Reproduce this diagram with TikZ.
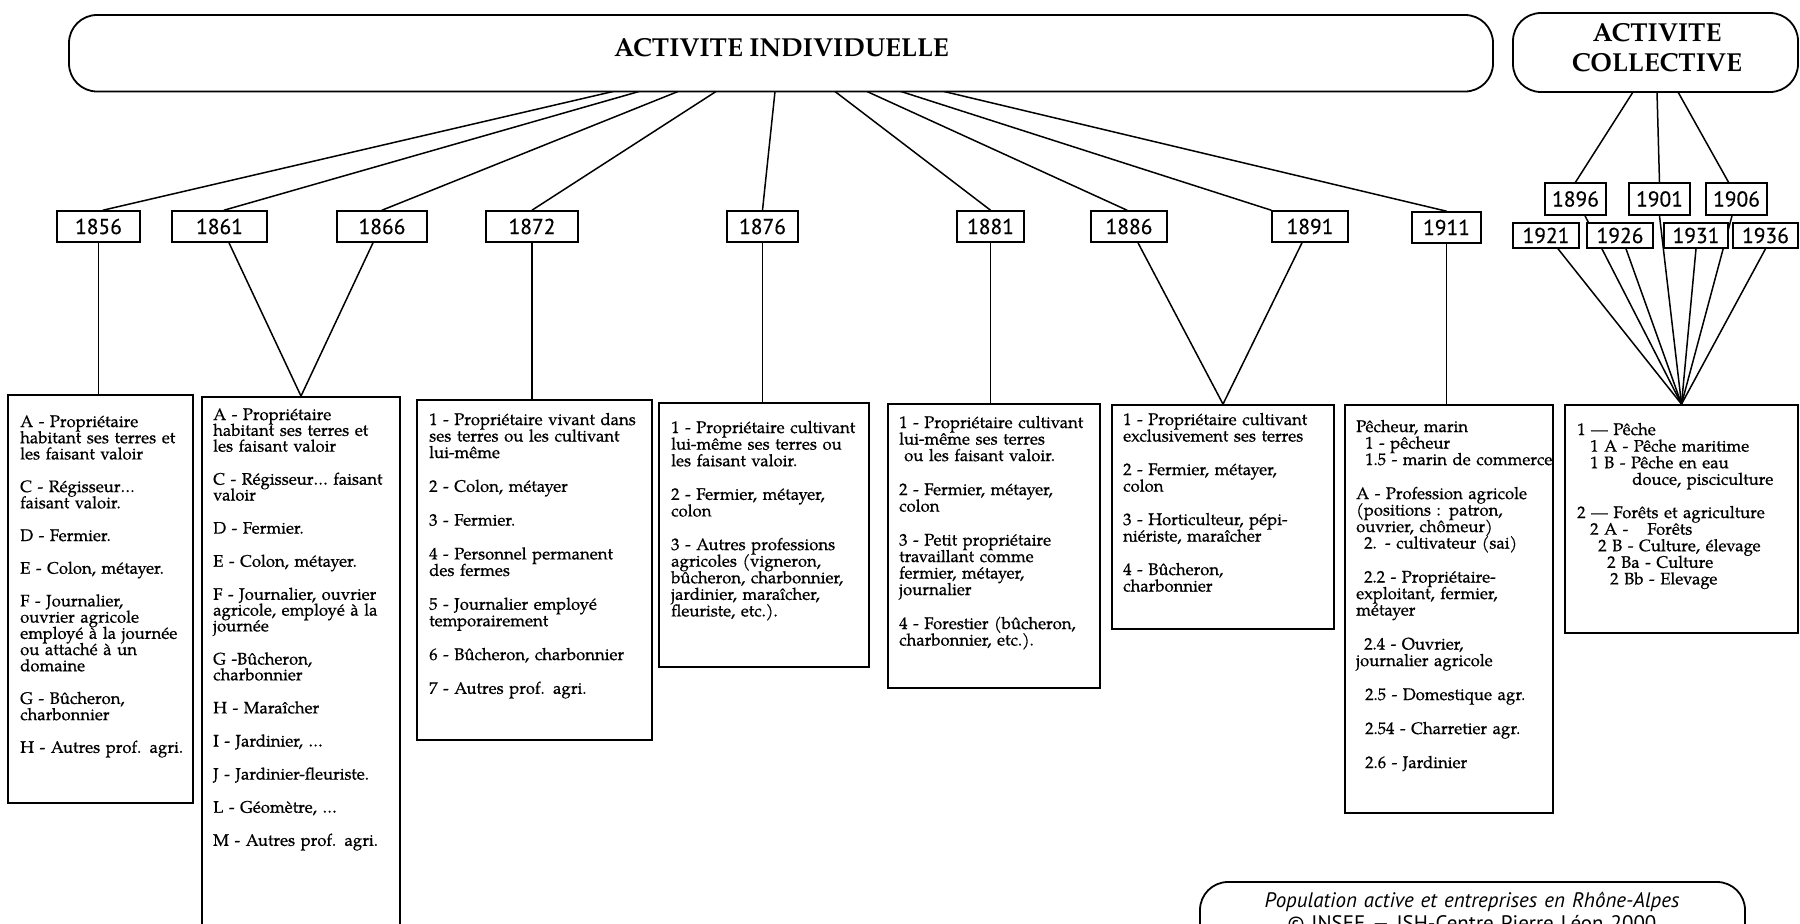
\documentclass[tikz,border=0pt]{standalone}
\usepackage{fontspec}
\setmainfont{texgyrepagella}[Extension=.otf,UprightFont=*-regular,BoldFont=*-bold,ItalicFont=*-italic,BoldItalicFont=*-bolditalic]
\newfontface\bodyfont{texgyrepagella-regular.otf}[FakeBold=0.6]
\newfontfamily\yearfont{PT Sans}[FakeBold=0.4]
\newfontfamily\credfont{PT Sans}
\usetikzlibrary{backgrounds}
\lineskiplimit=-\maxdimen
\normallineskiplimit=-\maxdimen
\def\gapsk{17pt}
\newcommand\np{\\[\gapsk]}
\begin{document}
\begin{tikzpicture}[x=1pt,y=-1pt,
 ybox/.style={draw,line width=1.6pt,fill=white,inner sep=0pt,minimum height=31pt,font={\yearfont\fontsize{21.5}{24}\selectfont}},
 cbox/.style={draw,line width=1.8pt,fill=white,inner sep=0pt},
 hdr/.style={draw,line width=1.8pt,fill=white,rounded corners=28pt,inner sep=0pt},
 htext/.style={inner sep=0pt,anchor=base,font={\bfseries\fontsize{26}{30}\selectfont}},
 ctext/.style={anchor=base west,inner sep=0pt,text width=235pt,align=left,font={\bodyfont\fontsize{16.7}{#1}\selectfont}},
 conn/.style={line width=1.5pt,line cap=round},
]
\path[use as bounding box] (0,0) rectangle (1800,924);
\clip (0,0) rectangle (1800,924);

% headers
\node[hdr,minimum width=1424pt,minimum height=76.5pt] (hi) at (781,53.25) {};
\node[htext] (hit) at (781.5,56) {ACTIVITE INDIVIDUELLE};
\node[hdr,minimum width=285pt,minimum height=79pt] (hc) at (1655.5,52.5) {};
\node[htext,text width=280pt,align=center] (hct) at (1657,41.7) {ACTIVITE\\COLLECTIVE};

% attachment points on headers
\coordinate (a1856) at (613,91.5);
\coordinate (a1861) at (639,91.5);
\coordinate (a1866) at (678,91.5);
\coordinate (a1872) at (716,91.5);
\coordinate (a1876) at (775,91.5);
\coordinate (a1881) at (835,91.5);
\coordinate (a1886) at (867,91.5);
\coordinate (a1891) at (901,91.5);
\coordinate (a1911) at (944,91.5);
\coordinate (b1896) at (1633,92);
\coordinate (b1901) at (1657,92);
\coordinate (b1906) at (1678,92);

% year boxes, individual
\node[ybox,minimum width=83pt] (y1856) at (98.5,226.5) {1856};
\node[ybox,minimum width=95pt] (y1861) at (219.5,226.5) {1861};
\node[ybox,minimum width=90pt] (y1866) at (382,226.5) {1866};
\node[ybox,minimum width=92pt] (y1872) at (532,226.5) {1872};
\node[ybox,minimum width=71pt] (y1876) at (762.5,226.5) {1876};
\node[ybox,minimum width=67pt] (y1881) at (990.5,226.5) {1881};
\node[ybox,minimum width=76pt] (y1886) at (1129,226.5) {1886};
\node[ybox,minimum width=76pt] (y1891) at (1310,226.5) {1891};
\node[ybox,minimum width=69pt] (y1911) at (1446.5,227.5) {1911};

% year boxes, collective
\node[ybox,minimum width=61pt,minimum height=32pt] (y1896) at (1575.5,199) {1896};
\node[ybox,minimum width=61pt,minimum height=32pt] (y1901) at (1659.5,199) {1901};
\node[ybox,minimum width=61pt,minimum height=32pt] (y1906) at (1736.5,199) {1906};
\node[ybox,minimum width=66pt,minimum height=25pt] (y1921) at (1546,235.5) {1921};
\node[ybox,minimum width=66pt,minimum height=25pt] (y1926) at (1620,235.5) {1926};
\node[ybox,minimum width=64pt,minimum height=25pt] (y1931) at (1696,235.5) {1931};
\node[ybox,minimum width=65pt,minimum height=25pt] (y1936) at (1765.5,235.5) {1936};

% content boxes
\node[cbox,minimum width=185pt,minimum height=408pt] (c1856) at (100.5,599) {};
\node[cbox,minimum width=198pt,minimum height=563pt] (c1861) at (301,678.5) {};
\node[cbox,minimum width=235pt,minimum height=340pt] (c1872) at (534.5,570) {};
\node[cbox,minimum width=210pt,minimum height=264pt] (c1876) at (764,535) {};
\node[cbox,minimum width=212pt,minimum height=284pt] (c1881) at (994,546) {};
\node[cbox,minimum width=222pt,minimum height=224pt] (c1886) at (1223,517) {};
\node[cbox,minimum width=208pt,minimum height=408pt] (c1911) at (1449,609) {};
\node[cbox,minimum width=233pt,minimum height=228pt] (cC) at (1681.5,519) {};

% texts
\node[ctext=16.2pt] (t1856) at (20,427) {\def\gapsk{16.5pt}%
A - Propriétaire\\habitant ses terres et\\les faisant valoir\np
C - Régisseur…\\faisant valoir.\np
D - Fermier.\np
E - Colon, métayer.\np
F - Journalier,\\ouvrier agricole\\employé à la journée\\ou attaché à un\\domaine\np
G - Bûcheron,\\charbonnier\np
H - Autres prof. agri.};

\node[ctext=15.8pt] (t1861) at (213,420) {\def\gapsk{17.3pt}%
A - Propriétaire\\habitant ses terres et\\les faisant valoir\np
C - Régisseur… faisant\\valoir\np
D - Fermier.\np
E - Colon, métayer.\np
F - Journalier, ouvrier\\agricole, employé à la\\journée\np
G -Bûcheron,\\charbonnier\np
H - Maraîcher\np
I - Jardinier, …\np
J - Jardinier-fleuriste.\np
L - Géomètre, …\np
M - Autres prof. agri.};

\node[ctext=16.5pt] (t1872) at (429,425) {\def\gapsk{17.3pt}%
1 - Propriétaire vivant dans\\ses terres ou les cultivant\\lui-même\np
2 - Colon, métayer\np
3 - Fermier.\np
4 - Personnel permanent\\des fermes\np
5 - Journalier employé\\temporairement\np
6 - Bûcheron, charbonnier\np
7 - Autres prof. agri.};

\node[ctext=16.6pt] (t1876) at (671,433) {\def\gapsk{17pt}%
1 - Propriétaire cultivant\\lui-même ses terres ou\\les faisant valoir.\np
2 - Fermier, métayer,\\colon\np
3 - Autres professions\\agricoles (vigneron,\\bûcheron, charbonnier,\\jardinier, maraîcher,\\fleuriste, etc.).};

\node[ctext=16.5pt] (t1881) at (899,428) {\def\gapsk{17.5pt}%
1 - Propriétaire cultivant\\lui-même ses terres\\\hspace*{5pt}ou les faisant valoir.\np
2 - Fermier, métayer,\\colon\np
3 - Petit propriétaire\\travaillant comme\\fermier, métayer,\\journalier\np
4 - Forestier (bûcheron,\\charbonnier, etc.).};

\node[ctext=16.5pt] (t1886) at (1123,425) {\def\gapsk{17pt}%
1 - Propriétaire cultivant\\exclusivement ses terres\np
2 - Fermier, métayer,\\colon\np
3 - Horticulteur, pépi-\\niériste, maraîcher\np
4 - Bûcheron,\\charbonnier};

\node[ctext=16.5pt] (t1911) at (1356,432) {\def\gapsk{17.5pt}%
Pêcheur, marin\\\hspace*{9pt}1 - pêcheur\\\hspace*{9pt}1.5 - marin de commerce\np
A - Profession agricole\\(positions : patron,\\ouvrier, chômeur)\\\hspace*{8pt}2. - cultivateur (sai)\np
\hspace*{8pt}2.2 - Propriétaire-\\exploitant, fermier,\\métayer\np
\hspace*{8pt}2.4 - Ouvrier,\\journalier agricole\np
\hspace*{9pt}2.5 - Domestique agr.\np
\hspace*{9pt}2.54 - Charretier agr.\np
\hspace*{9pt}2.6 - Jardinier};

\node[ctext=16.6pt] (tC) at (1577,435) {\def\gapsk{16.6pt}%
1 — Pêche\\\hspace*{13pt}1 A - Pêche maritime\\\hspace*{13pt}1 B - Pêche en eau\\\hspace*{55pt}douce, pisciculture\np
2 — Forêts et agriculture\\\hspace*{13pt}2 A -\hspace{19pt}Forêts\\\hspace*{21pt}2 B - Culture, élevage\\\hspace*{30pt}2 Ba - Culture\\\hspace*{33pt}2 Bb - Elevage};

% credit
\node[hdr,minimum width=545pt,minimum height=100pt] (cred) at (1472.5,932) {};
\node[inner sep=0pt,anchor=base,text width=540pt,align=center,font={\credfont\fontsize{21}{23}\selectfont}] (credt) at (1472,907) {\itshape Population active et entreprises en Rhône-Alpes\\\upshape © INSEE — ISH-Centre Pierre Léon 2000};

% connectors
\begin{pgfonlayer}{background}
\draw[conn] (a1856) -- ([xshift=4.5pt]y1856.north);
\draw[conn] (a1861) -- ([xshift=4.5pt]y1861.north);
\draw[conn] (a1866) -- (y1866.north);
\draw[conn] (a1872) -- (y1872.north);
\draw[conn] (a1876) -- (y1876.north);
\draw[conn] (a1881) -- (y1881.north);
\draw[conn] (a1886) -- ([xshift=-2pt]y1886.north);
\draw[conn] (a1891) -- (y1891.north west);
\draw[conn] (a1911) -- (y1911.north);
\draw[conn] (y1856.south) -- (y1856.south |- c1856.north);
\draw[conn] ([xshift=9.5pt]y1861.south) -- (c1861.north);
\draw[conn] ([xshift=-9pt]y1866.south) -- (c1861.north);
\draw[conn] (y1872.south) -- (y1872.south |- c1872.north);
\draw[conn] (y1876.south) -- (y1876.south |- c1876.north);
\draw[conn] (y1881.south) -- (y1881.south |- c1881.north);
\draw[conn] ([xshift=9pt]y1886.south) -- (c1886.north);
\draw[conn] ([xshift=-8pt]y1891.south) -- (c1886.north);
\draw[conn] (y1911.south) -- (y1911.south |- c1911.north);
\draw[conn] (b1896) -- (y1896.north);
\draw[conn] (b1901) -- (y1901.north);
\draw[conn] (b1906) -- ([xshift=-8pt]y1906.north);
\draw[conn] ([xshift=12pt]y1921.south) -- (cC.north);
\draw[conn] ([xshift=9.5pt]y1896.south) -- (cC.north);
\draw[conn] ([xshift=6pt]y1926.south) -- (cC.north);
\draw[conn] (y1901.south) -- (cC.north);
\draw[conn] (y1931.south) -- (cC.north);
\draw[conn] ([xshift=-4.5pt]y1906.south) -- (cC.north);
\draw[conn] (y1936.south) -- (cC.north);
\end{pgfonlayer}
\end{tikzpicture}
\end{document}
